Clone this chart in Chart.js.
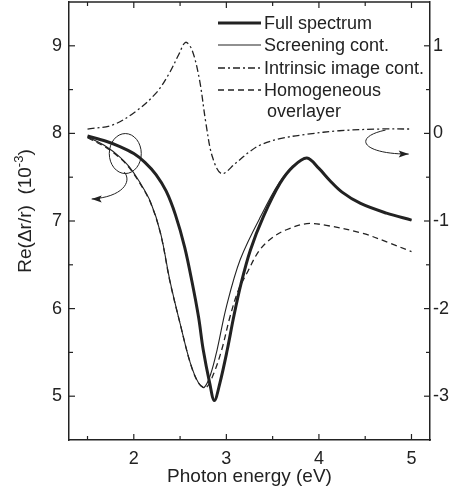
<!DOCTYPE html>
<html>
<head>
<meta charset="utf-8">
<script src="https://cdn.jsdelivr.net/npm/chart.js@4.4.0/dist/chart.umd.min.js"></script>
<style>
  html, body { margin: 0; padding: 0; background: #fff; }
  #chart { display: block; }
</style>
</head>
<body>
<canvas id="chart" width="453" height="493"></canvas>
<script>
// Full spectrum (left axis)
const fullE  = [1.50, 1.70, 1.85, 2.00, 2.12, 2.24, 2.35, 2.45, 2.55, 2.63, 2.70, 2.75, 2.82, 2.87, 2.93, 3.01, 3.08, 3.16, 3.26, 3.40, 3.58, 3.72, 3.87, 4.00, 4.12, 4.25, 4.45, 4.73, 5.00];
const fullRe = [7.97, 7.91, 7.85, 7.77, 7.67, 7.53, 7.34, 7.07, 6.70, 6.30, 5.90, 5.53, 5.15, 4.95, 5.15, 5.53, 5.91, 6.29, 6.67, 7.05, 7.43, 7.62, 7.72, 7.60, 7.46, 7.33, 7.20, 7.09, 7.01];

// Screening contribution (left axis)
const screenE  = [1.50, 1.70, 1.85, 1.95, 2.06, 2.18, 2.29, 2.39, 2.50, 2.61, 2.70, 2.76, 2.83, 2.90, 3.00, 3.15, 3.37, 3.62, 3.87, 4.00, 4.12, 4.25, 4.45, 4.73, 5.00];
const screenRe = [7.96, 7.85, 7.73, 7.62, 7.45, 7.22, 6.86, 6.32, 5.83, 5.38, 5.15, 5.10, 5.25, 5.53, 6.02, 6.56, 7.05, 7.51, 7.72, 7.60, 7.46, 7.33, 7.20, 7.09, 7.01];

// Intrinsic image contribution (right axis)
const intrE  = [1.50, 1.77, 2.02, 2.24, 2.38, 2.49, 2.56, 2.63, 2.71, 2.78, 2.85, 2.95, 3.10, 3.25, 3.37, 3.58, 3.87, 4.22, 4.66, 5.00];
const intrRe = [0.05, 0.095, 0.25, 0.46, 0.68, 0.91, 1.04, 0.95, 0.61, 0.11, -0.27, -0.46, -0.34, -0.21, -0.13, -0.06, -0.01, 0.03, 0.05, 0.05];

// Homogeneous overlayer (left axis)
const homE  = [1.50, 1.70, 1.85, 1.95, 2.06, 2.18, 2.29, 2.39, 2.50, 2.61, 2.70, 2.78, 2.86, 2.95, 3.04, 3.13, 3.22, 3.36, 3.51, 3.65, 3.87, 4.08, 4.47, 4.76, 5.00];
const homRe = [7.95, 7.84, 7.72, 7.61, 7.44, 7.21, 6.85, 6.31, 5.83, 5.38, 5.15, 5.10, 5.25, 5.53, 5.91, 6.21, 6.40, 6.67, 6.82, 6.90, 6.97, 6.95, 6.86, 6.75, 6.65];

const xTicks      = [1.5, 2, 2.5, 3, 3.5, 4, 4.5, 5];
const yLeftTicks  = [5, 5.5, 6, 6.5, 7, 7.5, 8, 8.5, 9];
const yRightTicks = [-3, -2.5, -2, -1.5, -1, -0.5, 0, 0.5, 1];

const FONT = "'Liberation Sans', Arial, Helvetica, sans-serif";
const INK = '#222';

const pts = (xs, ys) => xs.map((x, i) => ({ x: x, y: ys[i] }));
const intLabel = v => (Number.isInteger(v) ? String(v) : '');

// inward ticks, top frame line, annotations, legend and y title
const decor = {
  id: 'decor',
  afterDraw(chart) {
    const { ctx, chartArea: a, scales } = chart;
    const sx = scales.x, sy = scales.y, sy2 = scales.y2;
    ctx.save();
    ctx.strokeStyle = INK;
    ctx.fillStyle = INK;
    ctx.lineWidth = 1.5;

    const seg = (x1, y1, x2, y2) => { ctx.beginPath(); ctx.moveTo(x1, y1); ctx.lineTo(x2, y2); ctx.stroke(); };
    seg(a.left, a.top, a.right, a.top);

    ctx.lineWidth = 1.2;
    sx.ticks.forEach(t => {
      const p = sx.getPixelForValue(t.value), l = Number.isInteger(t.value) ? 6 : 4;
      seg(p, a.bottom, p, a.bottom - l);
      seg(p, a.top, p, a.top + l);
    });
    sy.ticks.forEach(t => {
      const p = sy.getPixelForValue(t.value), l = Number.isInteger(t.value) ? 6 : 4;
      seg(a.left, p, a.left + l, p);
    });
    sy2.ticks.forEach(t => {
      const p = sy2.getPixelForValue(t.value), l = Number.isInteger(t.value) ? 6 : 4;
      seg(a.right, p, a.right - l, p);
    });

    // annotations (data coords on the left axis)
    const P = (x, y) => [sx.getPixelForValue(x), sy.getPixelForValue(y)];
    ctx.lineWidth = 1;
    const c = P(1.908, 7.77);
    ctx.beginPath();
    ctx.ellipse(c[0], c[1], 16, 20, 0, 0, Math.PI * 2);
    ctx.stroke();

    const arrow = (p0, c1, c2, p1, dir) => {
      ctx.beginPath();
      ctx.moveTo(p0[0], p0[1]);
      ctx.bezierCurveTo(c1[0], c1[1], c2[0], c2[1], p1[0], p1[1]);
      ctx.stroke();
      ctx.beginPath();
      ctx.moveTo(p1[0], p1[1]);
      ctx.lineTo(p1[0] - dir * 10, p1[1] - 3.5);
      ctx.lineTo(p1[0] - dir * 8, p1[1]);
      ctx.lineTo(p1[0] - dir * 10, p1[1] + 3.5);
      ctx.closePath();
      ctx.fill();
    };
    arrow(P(1.898, 7.559), P(1.984, 7.445), P(1.876, 7.274), P(1.545, 7.251), -1);
    arrow(P(4.72, 8.038), P(4.357, 7.957), P(4.465, 7.764), P(4.97, 7.764), 1);

    // legend
    ctx.font = '18px ' + FONT;
    ctx.textBaseline = 'middle';
    ctx.textAlign = 'left';
    const rows = [23, 45, 68, 90];
    chart.data.datasets.forEach((ds, i) => {
      ctx.save();
      ctx.lineWidth = ds.borderWidth;
      ctx.setLineDash(ds.borderDash || []);
      seg(218, rows[i], 261, rows[i]);
      ctx.restore();
      const lines = ds.label.split('\n');
      ctx.fillText(lines[0], 264, rows[i] + 1);
      if (lines[1]) ctx.fillText(lines[1], 267, rows[i] + 22);
    });

    // y title with superscript
    ctx.save();
    ctx.translate(31, 211);
    ctx.rotate(-Math.PI / 2);
    ctx.textBaseline = 'alphabetic';
    const main = 'Re(\u0394r/r)  (10', sup = '-3', tail = ')';
    ctx.font = '19px ' + FONT;
    const w1 = ctx.measureText(main).width, w3 = ctx.measureText(tail).width;
    ctx.font = '13px ' + FONT;
    const w2 = ctx.measureText(sup).width;
    let x0 = -(w1 + w2 + w3) / 2;
    ctx.font = '19px ' + FONT;
    ctx.fillText(main, x0, 0);
    ctx.font = '13px ' + FONT;
    ctx.fillText(sup, x0 + w1, -8);
    ctx.font = '19px ' + FONT;
    ctx.fillText(tail, x0 + w1 + w2, 0);
    ctx.restore();

    ctx.restore();
  }
};

new Chart(document.getElementById('chart'), {
  type: 'line',
  data: {
    datasets: [
      { label: 'Full spectrum', data: pts(fullE, fullRe), borderColor: INK, borderWidth: 3, yAxisID: 'y' },
      { label: 'Screening cont.', data: pts(screenE, screenRe), borderColor: INK, borderWidth: 1.1, yAxisID: 'y' },
      { label: 'Intrinsic image cont.', data: pts(intrE, intrRe), borderColor: INK, borderWidth: 1.3, borderDash: [7, 3, 2, 3], yAxisID: 'y2' },
      { label: 'Homogeneous\noverlayer', data: pts(homE, homRe), borderColor: INK, borderWidth: 1.3, borderDash: [6, 4], yAxisID: 'y' }
    ]
  },
  options: {
    responsive: false,
    animation: false,
    devicePixelRatio: 1,
    layout: { padding: { top: 2, left: 0, right: 0, bottom: 0 } },
    elements: {
      point: { radius: 0 },
      line: { tension: 0.35, fill: false }
    },
    plugins: { legend: { display: false }, tooltip: { enabled: false } },
    scales: {
      x: {
        type: 'linear', position: 'bottom', min: 1.3, max: 5.2,
        afterBuildTicks: s => { s.ticks = xTicks.map(v => ({ value: v })); },
        afterFit: s => { s.height = 53; s.paddingLeft = 0; s.paddingRight = 0; },
        grid: { drawOnChartArea: false, drawTicks: false },
        border: { display: true, color: INK, width: 1.5 },
        ticks: { callback: intLabel, color: INK, font: { family: FONT, size: 18 }, padding: 8, maxRotation: 0, autoSkip: false },
        title: { display: true, text: 'Photon energy (eV)', color: INK, font: { family: FONT, size: 19 }, padding: { top: 0, bottom: 5 } }
      },
      y: {
        type: 'linear', position: 'left', min: 4.5, max: 9.5,
        afterBuildTicks: s => { s.ticks = yLeftTicks.map(v => ({ value: v })); },
        afterFit: s => { s.width = 69; s.paddingTop = 0; s.paddingBottom = 0; },
        grid: { drawOnChartArea: false, drawTicks: false },
        border: { display: true, color: INK, width: 1.5 },
        ticks: { callback: intLabel, color: INK, font: { family: FONT, size: 18 }, padding: 7, autoSkip: false }
      },
      y2: {
        type: 'linear', position: 'right', min: -3.5, max: 1.5,
        afterBuildTicks: s => { s.ticks = yRightTicks.map(v => ({ value: v })); },
        afterFit: s => { s.width = 23; s.paddingTop = 0; s.paddingBottom = 0; },
        grid: { drawOnChartArea: false, drawTicks: false },
        border: { display: true, color: INK, width: 1.5 },
        ticks: { callback: intLabel, color: INK, font: { family: FONT, size: 18 }, padding: 3, autoSkip: false }
      }
    }
  },
  plugins: [decor]
});
</script>
</body>
</html>
